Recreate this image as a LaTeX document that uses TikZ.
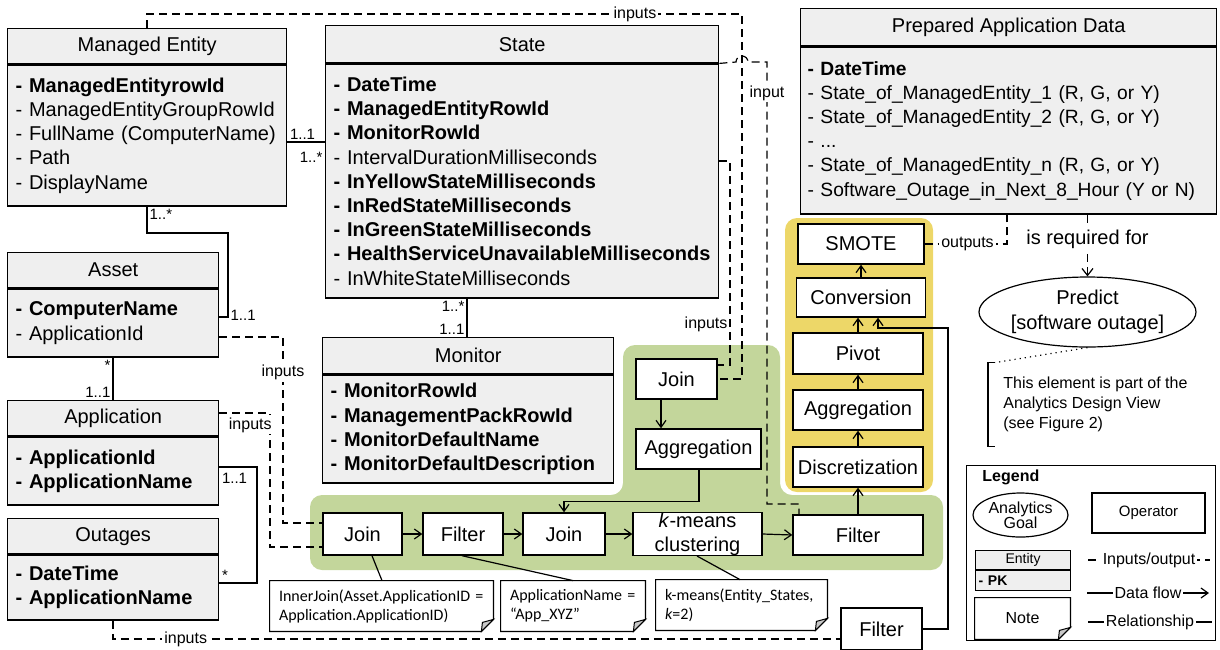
\documentclass[tikz,border=0pt]{standalone}
\usepackage{fontspec}
\setmainfont{Liberation Sans}
\newfontfamily\notefont{Carlito}
\usetikzlibrary{arrows}
\usetikzlibrary{arrows.meta}
\usetikzlibrary{shapes.geometric}

\definecolor{egray}{RGB}{239,239,239}
\definecolor{greenbg}{RGB}{195,214,155}
\definecolor{yellowbg}{RGB}{237,215,104}
\definecolor{foldgray}{RGB}{200,200,200}

\tikzset{
  ehead/.style={draw, fill=egray, line width=0.7pt, anchor=north west, inner sep=0pt, font=\fontsize{10}{12}\selectfont},
  ebody/.style={draw, fill=egray, line width=0.7pt, anchor=north west, inner xsep=4pt, inner ysep=0pt, align=left, font=\fontsize{10}{12.1}\selectfont},
  op/.style={draw, fill=white, line width=0.7pt, inner sep=0pt, minimum height=20pt, font=\fontsize{10}{12}\selectfont},
  note/.style={inner xsep=4.5pt, inner ysep=0pt, align=left, font=\notefont\fontsize{8}{9.5}\selectfont},
  rel/.style={line width=0.6pt},
  card/.style={inner sep=1pt, font=\fontsize{7.5}{8}\selectfont},
  io/.style={dash pattern=on 4pt off 2.5pt, line width=0.6pt},
  lbl/.style={inner sep=1pt, font=\fontsize{8}{9}\selectfont},
  flow/.style={-{Straight Barb[length=3.5pt,width=5pt]}, line width=0.6pt},
}

\newcommand\notefold[1]{%
  \draw[line width=0.6pt] (#1.north west) -- (#1.north east) -- ([yshift=6pt]#1.south east) -- ([xshift=-6pt]#1.south east) -- (#1.south west) -- cycle;
  \draw[line width=0.5pt, fill=foldgray] ([yshift=6pt]#1.south east) -- ([xshift=-6pt]#1.south east) -- ([xshift=-5.5pt,yshift=4.5pt]#1.south east) -- cycle;}

\begin{document}
\begin{tikzpicture}[x=0.5pt,y=-0.5pt]
  \useasboundingbox (0,0) rectangle (1220,649);

  % process areas
  \fill[greenbg, rounded corners=6pt] (310,495) -- (623,495) -- (623,345) -- (780,345) -- (780,495) -- (943,495) -- (943,570) -- (310,570) -- cycle;
  \fill[yellowbg, rounded corners=6pt] (785,218) rectangle (933,492);

  % entities
  \node[ehead, minimum width=139.5pt, minimum height=17.5pt] (meh) at (7,28) {Managed Entity};
  \node[ebody, text width=131.5pt, minimum height=70.5pt] (meb) at (meh.south west) {\textbf{- ManagedEntityrowId}\\- ManagedEntityGroupRowId\\- FullName (ComputerName)\\- Path\\- DisplayName};

  \node[ehead, minimum width=196.5pt, minimum height=18.5pt] (sth) at (325,25) {State};
  \node[ebody, text width=188.5pt, minimum height=117pt] (stb) at (sth.south west) {\textbf{- DateTime}\\\textbf{- ManagedEntityRowId}\\\textbf{- MonitorRowId}\\- IntervalDurationMilliseconds\\\textbf{- InYellowStateMilliseconds}\\\textbf{- InRedStateMilliseconds}\\\textbf{- InGreenStateMilliseconds}\\\textbf{- HealthServiceUnavailableMilliseconds}\\- InWhiteStateMilliseconds};

  \node[ehead, minimum width=208pt, minimum height=18.5pt] (ph) at (800,8) {Prepared Application Data};
  \node[ebody, text width=201pt, inner xsep=3.5pt, minimum height=83.5pt, font=\fontsize{9.6}{12.1}\selectfont] (pb) at (ph.south west) {\textbf{- DateTime}\\- State\_of\_ManagedEntity\_1 (R, G, or Y)\\- State\_of\_ManagedEntity\_2 (R, G, or Y)\\- ...\\- State\_of\_ManagedEntity\_n (R, G, or Y)\\- Software\_Outage\_in\_Next\_8\_Hour (Y or N)};

  \node[ehead, minimum width=105.5pt, minimum height=17.5pt] (ah) at (7,252) {Asset};
  \node[ebody, text width=97.5pt, minimum height=34pt] (ab) at (ah.south west) {\textbf{- ComputerName}\\- ApplicationId};

  \node[ehead, minimum width=105.5pt, minimum height=17.5pt] (aph) at (7,400) {Application};
  \node[ebody, text width=97.5pt, minimum height=34pt] (apb) at (aph.south west) {\textbf{- ApplicationId}\\\textbf{- ApplicationName}};

  \node[ehead, minimum width=105.5pt, minimum height=17.5pt] (oh) at (7,518) {Outages};
  \node[ebody, text width=97.5pt, minimum height=32.5pt] (ob) at (oh.south west) {\textbf{- DateTime}\\\textbf{- ApplicationName}};

  \node[ehead, minimum width=145.5pt, minimum height=18pt] (mh) at (322,337) {Monitor};
  \node[ebody, text width=137.5pt, minimum height=54pt] (mb) at (mh.south west) {\textbf{- MonitorRowId}\\\textbf{- ManagementPackRowId}\\\textbf{- MonitorDefaultName}\\\textbf{- MonitorDefaultDescription}};

  % operators
  \node[op, minimum width=40.5pt] (jointop) at (676.5,379) {Join};
  \node[op, minimum width=62.5pt] (aggtop) at (698.5,449) {Aggregation};
  \node[op, minimum width=39.5pt, minimum height=21pt] (join1) at (362.5,534) {Join};
  \node[op, minimum width=40pt, minimum height=21pt] (filter1) at (463,534) {Filter};
  \node[op, minimum width=41pt, minimum height=21pt] (join2) at (564,534) {Join};
  \node[op, minimum width=64.5pt, align=center] (kmeans) at (697.5,534) {\textit{k}-means\\clustering};
  \node[op, minimum width=65pt] (filter3) at (858,535) {Filter};
  \node[op, minimum width=40.5pt, minimum height=21pt] (filter2) at (881.5,629) {Filter};
  \node[op, minimum width=65pt] (disc) at (858,467) {Discretization};
  \node[op, minimum width=65pt] (agg2) at (858,410) {Aggregation};
  \node[op, minimum width=65pt, minimum height=20.5pt] (pivot) at (858,353.5) {Pivot};
  \node[op, minimum width=64.5pt, minimum height=19.5pt] (conv) at (861,297.5) {Conversion};
  \node[op, minimum width=63pt] (smote) at (861,244) {SMOTE};

  % goal
  \node[ellipse, draw, line width=0.6pt, minimum width=105.5pt, minimum height=35pt, inner sep=0pt, align=center, font=\fontsize{10}{12.5}\selectfont] (predict) at (1087.5,312) {Predict\\{[software outage]}};
  \node[anchor=west, minimum height=41.5pt, inner xsep=7.5pt, align=left, font=\fontsize{8}{10}\selectfont] (viewnote) at (988,404.5) {This element is part of the\\Analytics Design View\\(see Figure 2)};
  \draw[line width=0.6pt] ([xshift=3.5pt]viewnote.north west) -- (viewnote.north west) -- (viewnote.south west) -- ([xshift=3.5pt]viewnote.south west);
  \draw[dotted, line width=0.6pt] (predict.south) -- ([xshift=3.5pt]viewnote.north west);

  % notes
  \node[note, text width=102.5pt, minimum height=25pt] (note1) at (381.5,606) {InnerJoin(Asset.ApplicationID =\\Application.ApplicationID)};
  \notefold{note1}
  \node[note, text width=63pt, minimum height=25pt] (note2) at (573,606) {ApplicationName =\\“App\_XYZ”};
  \notefold{note2}
  \node[note, text width=76.5pt, minimum height=25pt] (note3) at (741.5,605) {k-means(Entity\_States,\\\textit{k}=2)};
  \notefold{note3}

  % relationships
  \draw[rel] (meb.east |- 0,142) node[card, above right]{1..1} -- (stb.west |- 0,142) node[card, below left, yshift=-4pt]{1..*};
  \draw[rel] (meb.south -| 147,0) node[card, below right]{1..*} |- (228,233) -- (228,317) node[card, anchor=west, yshift=1pt]{1..1} -- (ab.east |- 0,317);
  \draw[rel] (ab.south -| 113,0) node[card, below left]{*} -- (aph.north -| 113,0) node[card, above left]{1..1};
  \draw[rel] (apb.east |- 0,467) node[card, below right, yshift=-2pt]{1..1} -| (257,583) -- (ob.east |- 0,583) node[card, above right]{*};
  \draw[rel] (stb.south -| 467,0) node[card, below left]{1..*} -- (mh.north -| 467,0) node[card, above left]{1..1};
  \draw[rel] (join1.south -| 372,0) -- (note1.north -| 382,0);
  \draw[rel] (filter1.south -| 462,0) -- (note2.north -| 573,0);
  \draw[rel] (kmeans.south -| 697,0) -- (note3.north -| 740,0);

  % inputs / outputs
  \draw[io] (meh.north -| 147,0) -- (147,14) -- node[lbl, fill=white, pos=0.82]{inputs} (742,14) -- (742,379) -- (jointop.east);
  \draw[io] (sth.south east) -- (736,62) arc[start angle=180, end angle=360, radius=6] -- (767,62) -- node[lbl, fill=white, pos=0.07]{input} (767,504) -- (799,504) -- (filter3.north -| 799,0);
  \draw[io] (stb.east |- 0,161) -- (730,161) -- node[lbl, left, pos=0.8]{inputs} (730,365) -- (jointop.east |- 0,365);
  \draw[io] (ab.east |- 0,337) -- (283,337) -- node[lbl, fill=white, pos=0.19]{inputs} (283,523) -- (join1.west |- 0,523);
  \draw[io] (aph.east |- 0,413) -- (270,413) -- (270,547) -- (join1.west |- 0,547);
  \node[lbl, fill=white, anchor=north east] (appin) at (274,415) {inputs};
  \draw[io] (ob.south -| 113,0) -- (113,639) -- node[lbl, fill=white, pos=0.1]{inputs} (filter2.west |- 0,639);
  \draw[io] (smote.east) -- node[lbl, fill=white, pos=0.52]{outputs} (1007,244) -- (pb.south -| 1007,0);
  \draw[io, -{Straight Barb[length=3.5pt,width=5.5pt]}] (pb.south -| predict.north) -- node[fill=white, inner sep=1pt, font=\fontsize{10}{12}\selectfont, pos=0.4]{is required for} (predict.north);

  % data flow
  \draw[flow] (jointop.south -| 661,0) -- (aggtop.north -| 661,0);
  \draw[flow] (aggtop.south -| 699,0) -- ++(0,32) -| (join2.north);
  \draw[flow] (join1.east) -- (filter1.west);
  \draw[flow] (filter1.east) -- (join2.west);
  \draw[flow] (join2.east) -- (kmeans.west);
  \draw[flow] (kmeans.east) -- (filter3.west);
  \draw[flow] (filter3.north) -- (disc.south);
  \draw[flow] (disc.north) -- (agg2.south);
  \draw[flow] (agg2.north) -- (pivot.south);
  \draw[flow] (pivot.north) -- (conv.south -| pivot.north);
  \draw[flow] (conv.north) -- (smote.south);
  \draw[flow] (filter2.east) -- (948,629) |- (878,328) -- (conv.south -| 878,0);

  % legend
  \node[draw, line width=0.7pt, minimum width=124.5pt, minimum height=87.5pt, anchor=north west] (legend) at (966,465) {};
  \node[anchor=west, inner sep=0pt, font=\bfseries\fontsize{8}{9}\selectfont] (legtitle) at (982,477) {Legend};
  \node[ellipse, draw, line width=0.6pt, minimum width=47.5pt, minimum height=22pt, inner sep=0pt, align=center, font=\fontsize{8}{7.5}\selectfont] (lgoal) at (1020.5,515) {Analytics\\Goal};
  \node[op, minimum width=56.5pt, font=\fontsize{7.5}{9}\selectfont] (lop) at (1148.5,513) {Operator};
  \node[ehead, minimum width=47.5pt, minimum height=9.5pt, line width=0.6pt, font=\fontsize{7}{8}\selectfont] (lenth) at (975,550) {Entity};
  \node[ebody, text width=44.5pt, minimum height=10pt, inner xsep=1.5pt, line width=0.6pt, font=\bfseries\fontsize{7}{8}\selectfont] (lentb) at (lenth.south west) {- PK};
  \node[note, minimum width=47.5pt, minimum height=20.5pt, font=\fontsize{8}{9}\selectfont] (lnote) at (1022.5,618.5) {Note};
  \notefold{lnote}
  \coordinate (io1) at (1088,560);
  \coordinate (io2) at (1210,560);
  \coordinate (df1) at (1087,593);
  \coordinate (df2) at (1209,593);
  \coordinate (rl1) at (1088,622);
  \coordinate (rl2) at (1212,622);
  \draw[io] (io1) -- node[lbl, fill=white]{Inputs/output} (io2);
  \draw[flow] (df1) -- node[lbl, fill=white]{Data flow} (df2);
  \draw[rel] (rl1) -- node[lbl, fill=white]{Relationship} (rl2);
\end{tikzpicture}
\end{document}
